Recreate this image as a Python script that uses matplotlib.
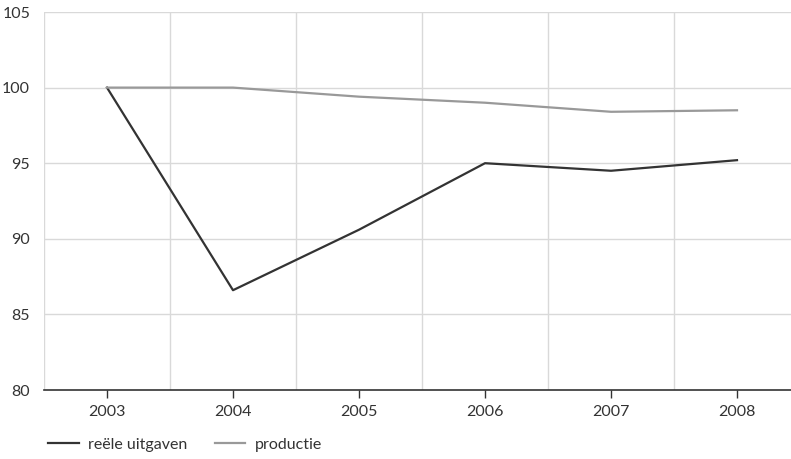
import matplotlib.pyplot as plt
import numpy as np

plt.rcParams['font.family'] = ['Lato', 'DejaVu Sans']

jaren = [2003, 2004, 2005, 2006, 2007, 2008]
reele_uitgaven = [100, 86.6, 90.6, 95.0, 94.5, 95.2]
productie = [100, 100, 99.4, 99.0, 98.4, 98.5]
y_ticks = [80, 85, 90, 95, 100, 105]

fig = plt.figure(figsize=(7.91, 4.59), dpi=100)
ax = fig.add_axes([44 / 791, 69 / 459, 756 / 791, 378 / 459])

ax.plot(jaren, reele_uitgaven, color='#333333', lw=1.6, label='reële uitgaven', zorder=3)
ax.plot(jaren, productie, color='#999999', lw=1.6, label='productie', zorder=3)

ax.set_xlim(2002.5, 2008.5)
ax.set_ylim(80, 105)
ax.set_xticks(jaren)
ax.set_xticks(np.arange(2002.5, 2009, 1), minor=True)
ax.set_yticks(y_ticks)

for y in y_ticks[1:]:
    ax.axhline(y, color='#d9d9d9', lw=1, zorder=1)
ax.grid(True, which='minor', axis='x', color='#d9d9d9', lw=1, zorder=1)

for s in ['top', 'right', 'left']:
    ax.spines[s].set_visible(False)
ax.spines['bottom'].set_color('#333333')
ax.spines['bottom'].set_linewidth(1.2)

ax.tick_params(axis='x', which='major', length=6, width=1, color='#333333',
               pad=5, labelsize=11.5, labelcolor='#333333')
ax.tick_params(axis='x', which='minor', length=0)
ax.tick_params(axis='y', length=0, pad=10, labelsize=11.5, labelcolor='#333333')

fig.legend(loc='lower left', bbox_to_anchor=(0.043, -0.015), ncol=2, frameon=False,
           fontsize=11.5, handlelength=1.9, columnspacing=1.7, handletextpad=0.6,
           labelcolor='#333333')

fig.savefig('out.png', dpi=100)
